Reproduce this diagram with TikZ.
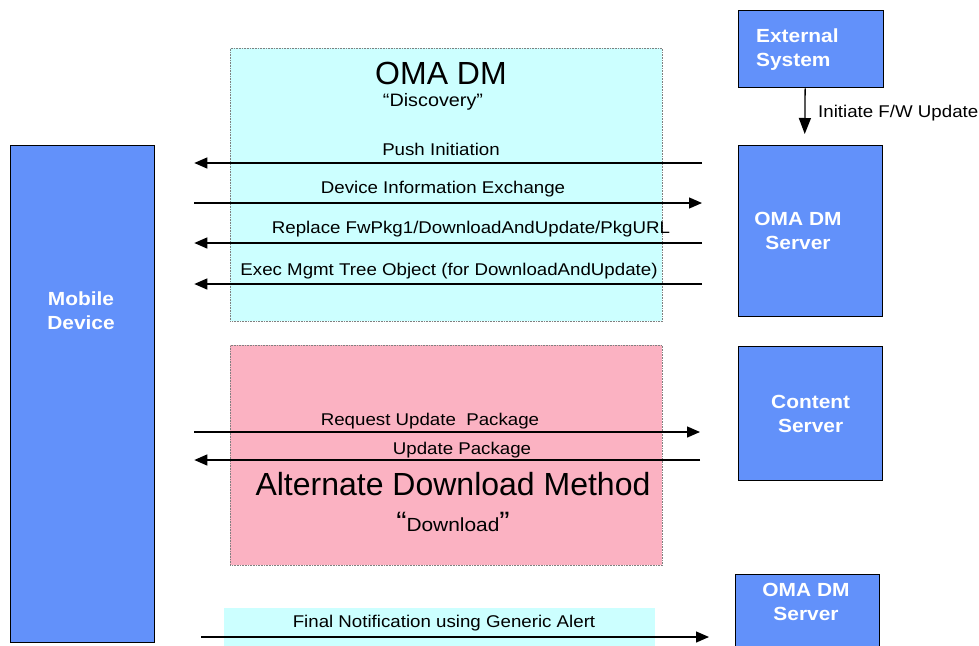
\documentclass[tikz,border=0pt]{standalone}
\usepackage{fontspec}
\setmainfont{Liberation Sans}
\newfontfamily\lbl[FakeStretch=1.1]{Liberation Sans}
\usetikzlibrary{arrows.meta}
\definecolor{boxblue}{RGB}{98,145,250}
\definecolor{cyanbg}{RGB}{204,255,255}
\definecolor{pinkbg}{RGB}{251,178,194}
\begin{document}
\begin{tikzpicture}[x=1pt,y=-1pt,
  box/.style={draw=black, line width=1.3pt, fill=boxblue, text=white,
    font=\lbl\bfseries\fontsize{19}{24}\selectfont, align=center, inner sep=0pt, anchor=north west},
  boxtxt/.style={text=white, font=\lbl\bfseries\fontsize{19}{24}\selectfont, align=center, inner sep=0pt},
  zone/.style={draw=gray, densely dotted, line width=0.6pt, anchor=north west, inner sep=0pt},
  msg/.style={font=\lbl\fontsize{17}{20}\selectfont, inner sep=0pt},
  big/.style={font=\fontsize{32}{34}\selectfont, inner sep=0pt},
  arr/.style={line width=1.3pt, -{Triangle[length=13pt,width=11pt]}},
  varr/.style={line width=1.3pt, -{Triangle[length=16pt,width=12pt]}},
]
\useasboundingbox (0,0) rectangle (979,645);
% zones
\node[zone, fill=cyanbg, minimum width=432pt, minimum height=273pt] (disc) at (230,48) {};
\node[zone, fill=pinkbg, minimum width=432pt, minimum height=220pt] (dl) at (230,345) {};
\node[fill=cyanbg, inner sep=0pt, anchor=north west, minimum width=431pt, minimum height=45pt] (fin) at (224,608) {};
% boxes
\node[box, minimum width=144pt, minimum height=497pt] (md) at (10,145) {};
\node[boxtxt] (mdt) at (81,311) {Mobile\\Device};
\node[box, minimum width=145pt, minimum height=77pt, text width=110pt, align=left] (ext) at (738,10) {External\\System};
\node[box, minimum width=144pt, minimum height=171pt] (srv) at (738,145) {};
\node[boxtxt] (srvt) at (798,231) {OMA DM\\Server};
\node[box, minimum width=144pt, minimum height=134pt] (cs) at (738,346) {Content\\Server};
\node[box, minimum width=144pt, minimum height=90pt] (srv2) at (735,574) {};
\node[boxtxt] (srv2t) at (806,602) {OMA DM\\Server};
% titles
\node[big] (t1) at (441,73) {OMA DM};
\node[msg, font=\lbl\fontsize{18}{20}\selectfont] (t1s) at (433,102) {“Discovery”};
\node[big] (t2) at (453,484) {Alternate Download Method};
\node[msg, font=\lbl\fontsize{19}{20}\selectfont] (t2s) at (453,522) {{\fontsize{28}{28}\selectfont “}Download{\fontsize{28}{28}\selectfont ”}};
% message labels
\node[msg] (l1) at (441,149) {Push Initiation};
\node[msg] (l2) at (443,189) {Device Information Exchange};
\node[msg] (l3) at (471,229) {Replace FwPkg1/DownloadAndUpdate/PkgURL};
\node[msg] (l4) at (449,271) {Exec Mgmt Tree Object (for DownloadAndUpdate)};
\node[msg] (l5) at (430,421) {Request Update\ \ Package};
\node[msg] (l6) at (462,450) {Update Package};
\node[msg] (l7) at (444,623) {Final Notification using Generic Alert};
\node[msg, anchor=west] (l0) at (818,113) {Initiate F/W Update};
% connectors
\draw[arr, shorten <=36pt, shorten >=39pt] (srv.west |- 0,163) -- (md.east |- 0,163);
\draw[arr, shorten <=39pt, shorten >=36pt] (md.east |- 0,203) -- (srv.west |- 0,203);
\draw[arr, shorten <=36pt, shorten >=39pt] (srv.west |- 0,243) -- (md.east |- 0,243);
\draw[arr, shorten <=36pt, shorten >=39pt] (srv.west |- 0,284) -- (md.east |- 0,284);
\draw[arr, shorten <=39pt, shorten >=38pt] (md.east |- 0,432) -- (cs.west |- 0,432);
\draw[arr, shorten <=38pt, shorten >=39pt] (cs.west |- 0,460) -- (md.east |- 0,460);
\draw[arr, shorten <=46pt, shorten >=26pt] (md.east |- 0,637) -- (srv2.west |- 0,637);
\draw[varr, shorten >=11pt] ([xshift=-6pt]ext.south) -- ([xshift=-6pt]srv.north);
\end{tikzpicture}
\end{document}
